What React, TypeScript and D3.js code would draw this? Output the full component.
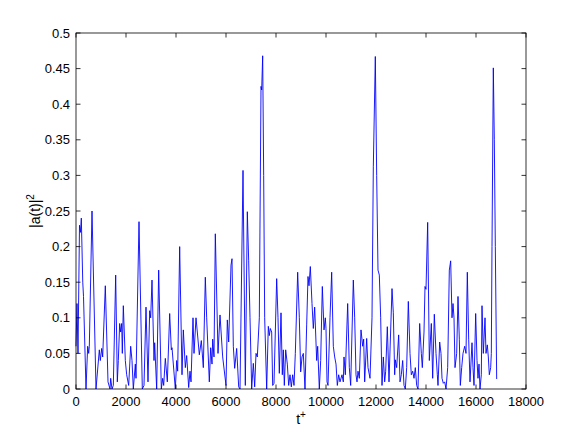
import React from "react";
import * as d3 from "d3";

const tValues: number[] = [
  0, 40, 80, 140, 180, 213, 270, 300, 400, 467, 507, 533, 640, 800, 933, 973, 1027, 1067, 1173, 1280,
  1360, 1387, 1440, 1493, 1587, 1653, 1693, 1747, 1787, 1827, 1853, 1893, 1973, 2027, 2107, 2187, 2240, 2293, 2373, 2400,
  2520, 2653, 2720, 2800, 2880, 2947, 2987, 3040, 3120, 3147, 3227, 3307, 3413, 3467, 3507, 3573, 3653, 3747, 3813, 3840,
  3973, 4027, 4067, 4147, 4240, 4293, 4373, 4427, 4507, 4560, 4600, 4680, 4720, 4800, 4853, 4933, 5013, 5093, 5173, 5227,
  5333, 5387, 5440, 5467, 5520, 5573, 5680, 5760, 5867, 6000, 6053, 6107, 6200, 6240, 6293, 6347, 6427, 6507, 6560, 6680,
  6773, 6853, 6907, 6960, 7027, 7093, 7147, 7200, 7253, 7333, 7400, 7427, 7467, 7507, 7547, 7627, 7693, 7733, 7773, 7827,
  7867, 7920, 8027, 8080, 8133, 8200, 8253, 8293, 8333, 8387, 8453, 8507, 8560, 8613, 8667, 8720, 8773, 8867, 8933, 8987,
  9040, 9093, 9160, 9227, 9280, 9320, 9373, 9440, 9493, 9547, 9627, 9667, 9733, 9787, 9853, 9920, 9973, 10000, 10040, 10080,
  10160, 10227, 10293, 10347, 10400, 10453, 10507, 10560, 10640, 10693, 10720, 10773, 10867, 10933, 10987, 11093, 11147, 11200, 11240, 11280,
  11333, 11400, 11467, 11507, 11547, 11627, 11680, 11760, 11840, 11893, 11973, 12027, 12080, 12133, 12187, 12240, 12293, 12347, 12387, 12453,
  12520, 12640, 12693, 12747, 12773, 12827, 12907, 12960, 13013, 13067, 13120, 13173, 13227, 13293, 13360, 13413, 13467, 13520, 13573, 13627,
  13680, 13747, 13813, 13853, 13920, 13960, 14000, 14067, 14133, 14213, 14267, 14333, 14400, 14453, 14480, 14547, 14600, 14640, 14693, 14747,
  14800, 14867, 14933, 14987, 15040, 15080, 15120, 15160, 15227, 15280, 15333, 15373, 15427, 15480, 15547, 15600, 15653, 15707, 15760, 15840,
  15880, 15920, 15987, 16040, 16080, 16120, 16160, 16213, 16240, 16293, 16360, 16400, 16453, 16493, 16533, 16587, 16613, 16640, 16693, 16733,
  16773, 16827,
];

const aValues: number[] = [
  0.06, 0.12, 0.05, 0.23, 0.22, 0.24, 0.15, 0.13, 0.0, 0.06, 0.05, 0.06, 0.25, 0.0, 0.055, 0.04, 0.057, 0.045, 0.145, 0.01,
  0.0, 0.015, 0.0, 0.005, 0.16, 0.01, 0.04, 0.092, 0.08, 0.092, 0.05, 0.117, 0.04, 0.02, 0.005, 0.06, 0.04, 0.0, 0.035, 0.015,
  0.235, 0.0, 0.005, 0.115, 0.01, 0.11, 0.1, 0.153, 0.04, 0.065, 0.0, 0.167, 0.0, 0.015, 0.005, 0.043, 0.01, 0.106, 0.055, 0.058,
  0.0, 0.04, 0.025, 0.2, 0.02, 0.083, 0.03, 0.047, 0.002, 0.025, 0.01, 0.1, 0.05, 0.1, 0.08, 0.048, 0.068, 0.03, 0.157, 0.1,
  0.01, 0.058, 0.035, 0.07, 0.045, 0.218, 0.05, 0.104, 0.045, 0.005, 0.097, 0.066, 0.174, 0.183, 0.06, 0.029, 0.057, 0.003, 0.0, 0.307,
  0.005, 0.249, 0.18, 0.1, 0.0, 0.036, 0.003, 0.05, 0.045, 0.1, 0.425, 0.42, 0.468, 0.3, 0.1, 0.0, 0.088, 0.075, 0.085, 0.08,
  0.005, 0.008, 0.155, 0.1, 0.022, 0.107, 0.02, 0.055, 0.005, 0.055, 0.035, 0.005, 0.02, 0.003, 0.02, 0.005, 0.05, 0.164, 0.1, 0.024,
  0.045, 0.05, 0.0, 0.09, 0.158, 0.145, 0.172, 0.12, 0.085, 0.115, 0.04, 0.06, 0.0, 0.04, 0.144, 0.083, 0.1, 0.085, 0.01, 0.005,
  0.1, 0.164, 0.06, 0.045, 0.035, 0.005, 0.02, 0.01, 0.02, 0.01, 0.045, 0.02, 0.12, 0.03, 0.005, 0.153, 0.1, 0.02, 0.01, 0.025,
  0.015, 0.083, 0.06, 0.07, 0.01, 0.071, 0.03, 0.015, 0.1, 0.312, 0.467, 0.3, 0.167, 0.16, 0.1, 0.005, 0.045, 0.01, 0.025, 0.0875,
  0.01, 0.141, 0.107, 0.02, 0.041, 0.03, 0.076, 0.01, 0.02, 0.04, 0.005, 0.0, 0.03, 0.123, 0.05, 0.02, 0.025, 0.015, 0.03, 0.005,
  0.0, 0.092, 0.05, 0.03, 0.08, 0.144, 0.14, 0.234, 0.04, 0.092, 0.015, 0.105, 0.05, 0.02, 0.005, 0.066, 0.05, 0.015, 0.008, 0.01,
  0.0, 0.03, 0.167, 0.18, 0.1, 0.12, 0.1, 0.03, 0.05, 0.13, 0.07, 0.005, 0.03, 0.05, 0.06, 0.05, 0.164, 0.07, 0.01, 0.065,
  0.03, 0.005, 0.106, 0.04, 0.015, 0.035, 0.0, 0.02, 0.117, 0.05, 0.1, 0.05, 0.062, 0.045, 0.02, 0.03, 0.05, 0.2, 0.451, 0.35,
  0.2, 0.014,
];

const xTicks: number[] = [0, 2000, 4000, 6000, 8000, 10000, 12000, 14000, 16000, 18000];
const yTicks: number[] = [0, 0.05, 0.1, 0.15, 0.2, 0.25, 0.3, 0.35, 0.4, 0.45, 0.5];

const W = 582;
const H = 438;
const M = { left: 76, right: 56, top: 33, bottom: 49 };

export default function App() {
  const x = d3.scaleLinear().domain([0, 18000]).range([M.left, W - M.right]);
  const y = d3.scaleLinear().domain([0, 0.5]).range([H - M.bottom, M.top]);
  const pts: [number, number][] = tValues.map((t, i) => [t, aValues[i]]);
  const line = d3
    .line<[number, number]>()
    .x((d) => x(d[0]))
    .y((d) => y(d[1]));
  const x0 = M.left;
  const x1 = W - M.right;
  const y0 = H - M.bottom;
  const y1 = M.top;
  const tl = 4.5;
  const font = "'Liberation Sans', Arial, Helvetica, sans-serif";
  const fmtY = (v: number) => String(+v.toFixed(2));
  return (
    <svg
      width={W}
      height={H}
      style={{ position: "fixed", left: 0, top: 0, background: "#fff" }}
      fontFamily={font}
    >
      <rect x={0} y={0} width={W} height={H} fill="#fff" />
      <path d={line(pts) || ""} fill="none" stroke="#0000ff" strokeWidth={0.9} strokeLinejoin="round" />
      <rect x={x0} y={y1} width={x1 - x0} height={y0 - y1} fill="none" stroke="#000" strokeWidth={0.8} />
      {xTicks.map((t) => (
        <g key={"x" + t}>
          <line x1={x(t)} x2={x(t)} y1={y0} y2={y0 - tl} stroke="#000" strokeWidth={0.8} />
          <line x1={x(t)} x2={x(t)} y1={y1} y2={y1 + tl} stroke="#000" strokeWidth={0.8} />
          <text x={x(t)} y={y0 + 17} textAnchor="middle" fontSize={13} fill="#000">
            {t}
          </text>
        </g>
      ))}
      {yTicks.map((v) => (
        <g key={"y" + v}>
          <line x1={x0} x2={x0 + tl} y1={y(v)} y2={y(v)} stroke="#000" strokeWidth={0.8} />
          <line x1={x1} x2={x1 - tl} y1={y(v)} y2={y(v)} stroke="#000" strokeWidth={0.8} />
          <text x={x0 - 6} y={y(v) + 4.5} textAnchor="end" fontSize={13} fill="#000">
            {fmtY(v)}
          </text>
        </g>
      ))}
      <text x={(x0 + x1) / 2} y={y0 + 35} textAnchor="middle" fontSize={14} fill="#000">
        t<tspan dy={-6} fontSize={10}>+</tspan>
      </text>
      <text
        transform={`translate(${40},${(y0 + y1) / 2}) rotate(-90)`}
        textAnchor="middle"
        fontSize={14}
        fill="#000"
      >
        |a(t)|<tspan dy={-6} fontSize={10}>2</tspan>
      </text>
    </svg>
  );
}
